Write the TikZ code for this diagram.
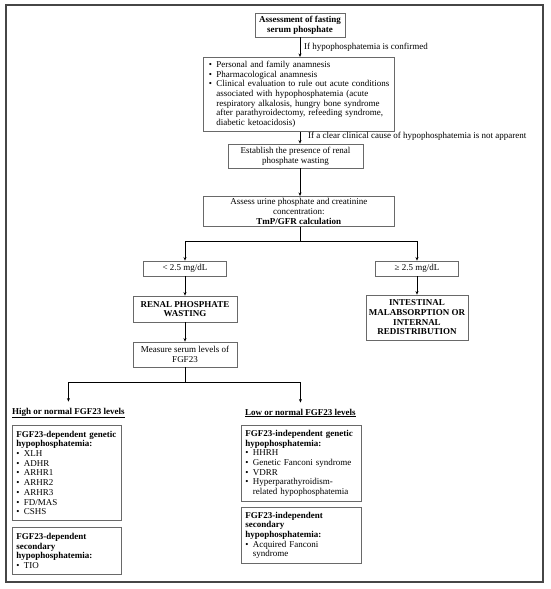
\documentclass[tikz,border=0pt]{standalone}
\usepackage{fontspec}
\setmainfont{Liberation Serif}
\usetikzlibrary{arrows.meta}
\definecolor{boxgray}{RGB}{105,105,105}
\definecolor{framegray}{RGB}{70,70,70}
\newcommand{\bitem}{\makebox[7.5pt][l]{\textbullet}}
\newcommand{\bcont}{\hspace*{7.5pt}}
\tikzset{
  txt/.style={font=\fontsize{9}{9.7}\selectfont},
  box/.style={draw=boxgray, line width=0.7pt, inner sep=0pt, align=center, txt},
  lbox/.style={draw=boxgray, line width=0.7pt, inner ysep=0pt, align=left, txt},
  arr/.style={-{Stealth[length=3.6pt,width=3pt]}, line width=0.8pt, black},
  ln/.style={line width=0.8pt, black},
  lbl/.style={anchor=west, inner sep=0pt, txt},
}
\begin{document}
\begin{tikzpicture}[x=1pt,y=-1pt]
\useasboundingbox (0,0) rectangle (550,589);
\draw[framegray, line width=1.3pt] (6,5) rectangle (543,582);

\node[box, minimum width=90pt, minimum height=24pt] (top) at (300,25)
  {\textbf{Assessment of fasting}\\\textbf{serum phosphate}};

\node[lbox, anchor=north west, inner xsep=5.5pt, text width=180pt, minimum height=74pt] (bul) at (203,57)
  {\bitem Personal and family anamnesis\\
   \bitem Pharmacological anamnesis\\
   \bitem\mbox{Clinical evaluation to rule out acute conditions}\\
   \bcont associated with hypophosphatemia (acute\\
   \bcont respiratory alkalosis, hungry bone syndrome\\
   \bcont after parathyroidectomy, refeeding syndrome,\\
   \bcont diabetic ketoacidosis)};

\node[box, minimum width=135pt, minimum height=24pt] (est) at (295.5,156)
  {Establish the presence of renal\\phosphate wasting};

\node[box, anchor=north west, minimum width=191pt, minimum height=30pt] (tmp) at (203,196)
  {Assess urine phosphate and creatinine\\concentration:\\\textbf{TmP/GFR calculation}};

\node[box, minimum width=83pt, minimum height=15pt] (lo) at (185,268.5) {< 2.5 mg/dL};
\node[box, minimum width=83pt, minimum height=15pt] (hi) at (417,268.5) {≥ 2.5 mg/dL};

\node[box, minimum width=104pt, minimum height=26pt] (ren) at (185,309)
  {\textbf{RENAL PHOSPHATE}\\\textbf{WASTING}};
\node[box, minimum width=102pt, minimum height=45pt] (intes) at (417,317.5)
  {\textbf{INTESTINAL}\\\textbf{MALABSORPTION OR}\\\textbf{INTERNAL}\\\textbf{REDISTRIBUTION}};

\node[box, minimum width=104pt, minimum height=25pt] (meas) at (185,354.5)
  {Measure serum levels of\\FGF23};

\node[lbl] (hlab) at (12,413) {\underline{\textbf{High or normal FGF23 levels}}};
\node[lbl] (llab) at (245,413) {\underline{\textbf{Low or normal FGF23 levels}}};

\node[lbox, anchor=north west, inner xsep=4pt, text width=101pt, minimum height=95pt] (l1) at (12,425)
  {\mbox{\textbf{FGF23-dependent genetic}}\\
   \textbf{hypophosphatemia:}\\
   \bitem XLH\\ \bitem ADHR\\ \bitem ARHR1\\ \bitem ARHR2\\ \bitem ARHR3\\ \bitem FD/MAS\\ \bitem CSHS};
\node[lbox, anchor=north west, inner xsep=4pt, text width=101pt, minimum height=47pt] (l2) at (12,527)
  {\textbf{FGF23-dependent}\\
   \textbf{secondary}\\
   \textbf{hypophosphatemia:}\\
   \bitem TIO};
\node[lbox, anchor=north west, inner xsep=4pt, text width=112pt, minimum height=76pt] (r1) at (241,425)
  {\mbox{\textbf{FGF23-independent genetic}}\\
   \textbf{hypophosphatemia:}\\
   \bitem HHRH\\
   \bitem Genetic Fanconi syndrome\\
   \bitem VDRR\\
   \bitem Hyperparathyroidism-\\
   \bcont\mbox{related hypophosphatemia}};
\node[lbox, anchor=north west, inner xsep=4pt, text width=112pt, minimum height=56pt] (r2) at (241,507)
  {\textbf{FGF23-independent}\\
   \textbf{secondary}\\
   \textbf{hypophosphatemia:}\\
   \bitem Acquired Fanconi\\
   \bcont syndrome};

% labels on connectors
\node[lbl] (c1) at (304,47) {If hypophosphatemia is confirmed};
\node[lbl] (c2) at (308,136) {If a clear clinical cause of hypophosphatemia is not apparent};

% connectors
\draw[arr] (top.south) -- (top.south |- bul.north);
\draw[arr] (bul.south -| top.south) -- (top.south |- est.north);
\draw[arr] (top.south |- est.south) -- (top.south |- tmp.north);
\draw[ln] (top.south |- tmp.south) -- ++(0,15) coordinate (j1);
\draw[arr] (j1) -| (lo.north);
\draw[arr] (j1) -| (hi.north);
\draw[arr] (lo.south) -- (ren.north);
\draw[arr] (hi.south) -- (intes.north);
\draw[arr] (ren.south) -- (meas.north);
\draw[ln] (meas.south) -- ++(0,15) coordinate (j2);
\draw[arr, shorten >=6pt] (j2) -| (hlab.north);
\draw[arr, shorten >=6pt] (j2) -| (llab.north);
\end{tikzpicture}
\end{document}
